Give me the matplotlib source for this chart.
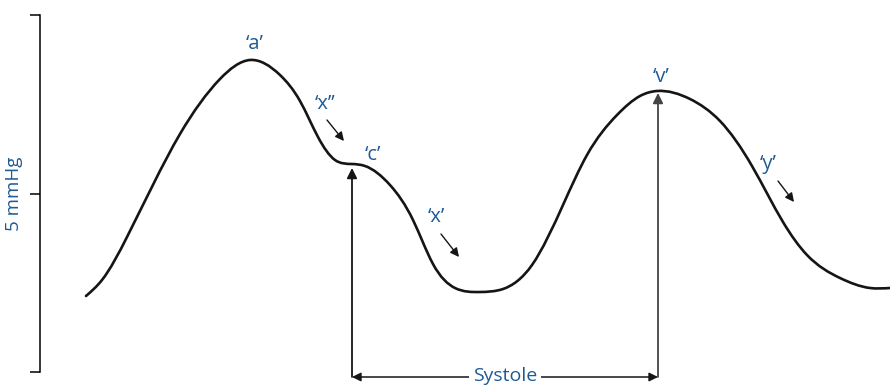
import numpy as np
import matplotlib.pyplot as plt
from matplotlib.path import Path
from matplotlib.patches import PathPatch

plt.rcParams['font.family'] = ['Open Sans', 'DejaVu Sans']

# JVP waveform (x = time, y = height in px, downwards)
wave_x = [86, 102, 127, 180, 220, 250, 280, 300, 318, 335, 352, 365, 390, 413, 433, 455,
          480, 503, 532, 563, 587, 617, 640, 657, 690, 720, 752, 783, 807, 840, 870, 890]
wave_y = [296, 280, 237, 134, 79, 60, 75, 101, 137, 160, 164, 166, 185, 220, 264, 288,
          292, 289, 265, 205, 155, 115, 96, 91, 99, 121, 166, 222, 255, 278, 288, 288]

# wave labels and their little arrows
labels = ["\u2018a\u2019", "\u2018x\u2019\u2019", "\u2018c\u2019", "\u2018x\u2019", "\u2018v\u2019", "\u2018y\u2019"]
label_x = [255, 325, 373, 436, 661, 768]
label_y = [44, 104, 155, 217, 77, 164]
small_arrows = [((327, 120), (344, 141)), ((441, 234), (459, 257)), ((778, 181), (794, 202))]

# systole markers
systole_start, systole_end = 352, 658
c_top, v_top = 168, 93
base_y = 377

blue = '#1f5a94'

fig = plt.figure(figsize=(8.9, 3.86), dpi=100)
ax = fig.add_axes([0, 0, 1, 1])
ax.set_xlim(0, 890)
ax.set_ylim(386, 0)
ax.axis('off')

# natural cubic spline through the traced points, drawn as Bezier segments
x = np.array(wave_x, float)
y = np.array(wave_y, float)
n = len(x)
h = np.diff(x)
A = np.zeros((n, n))
r = np.zeros(n)
A[0, 0] = A[-1, -1] = 1
for i in range(1, n - 1):
    A[i, i - 1] = h[i - 1]
    A[i, i] = 2 * (h[i - 1] + h[i])
    A[i, i + 1] = h[i]
    r[i] = 6 * ((y[i + 1] - y[i]) / h[i] - (y[i] - y[i - 1]) / h[i - 1])
M = np.linalg.solve(A, r)
m = np.empty(n)
m[:-1] = np.diff(y) / h - h * (2 * M[:-1] + M[1:]) / 6
m[-1] = (y[-1] - y[-2]) / h[-1] + h[-1] * (M[-2] + 2 * M[-1]) / 6

verts = [(x[0], y[0])]
codes = [Path.MOVETO]
for i in range(n - 1):
    d = h[i] / 3
    verts += [(x[i] + d, y[i] + d * m[i]), (x[i + 1] - d, y[i + 1] - d * m[i + 1]),
              (x[i + 1], y[i + 1])]
    codes += [Path.CURVE4] * 3
ax.add_patch(PathPatch(Path(verts, codes), facecolor='none', edgecolor='#151515',
                       lw=1.9, capstyle='round'))

for t, lx, ly in zip(labels, label_x, label_y):
    ax.text(lx, ly, t, color=blue, fontsize=14.5, ha='center', va='center')

for (x0, y0), (x1, y1) in small_arrows:
    ax.annotate('', xy=(x1, y1), xytext=(x0, y0),
                arrowprops=dict(arrowstyle='-|>', color='#151515', lw=1.0,
                                mutation_scale=13, shrinkA=0, shrinkB=0))

# vertical arrows up to 'c' and 'v'
for vx, top, col in [(systole_start, c_top, '#151515'), (systole_end, v_top, '#444444')]:
    ax.annotate('', xy=(vx, top), xytext=(vx, base_y),
                arrowprops=dict(arrowstyle='-|>', color=col, lw=1.3,
                                mutation_scale=15, shrinkA=0, shrinkB=0))

ax.annotate('', xy=(systole_start, base_y), xytext=(systole_end, base_y),
            arrowprops=dict(arrowstyle='<|-|>', color='#151515', lw=1.1,
                            mutation_scale=13, shrinkA=0, shrinkB=0))
ax.text((systole_start + systole_end) / 2, base_y - 1, 'Systole', color=blue, fontsize=14,
        ha='center', va='center',
        bbox=dict(facecolor='white', edgecolor='none', pad=3))

# 5 mmHg scale bar
sb = fig.add_axes([40 / 890, 14 / 386, 0.001, 357 / 386])
sb.set_ylim(0, 10)
for s in ['top', 'right', 'bottom']:
    sb.spines[s].set_visible(False)
sb.spines['left'].set_linewidth(1.1)
sb.set_xticks([])
sb.set_yticks([0, 5, 10])
sb.set_yticklabels([])
sb.tick_params(axis='y', direction='out', length=7, width=1.1)
sb.set_ylabel('5 mmHg', color=blue, fontsize=13.5, labelpad=2)
sb.patch.set_alpha(0)

fig.savefig('out.png', dpi=100)
